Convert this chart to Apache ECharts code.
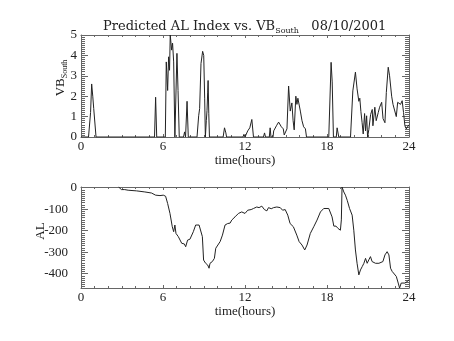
<!DOCTYPE html>
<html>
<head>
<meta charset="utf-8">
<script src="https://cdn.jsdelivr.net/npm/echarts@6/dist/echarts.min.js"></script>
<style>html,body{margin:0;padding:0;background:#fff}#c{width:454px;height:341px}</style>
</head>
<body>
<div id="c"></div>
<script>
// ---- data (hours UT) ----
const xTicks = [0, 6, 12, 18, 24];
const vbHours = [0,0.55,0.7,0.78,0.86,0.93,1.0,1.1,5.38,5.46,5.54,6.17,6.24,6.34,6.41,6.48,6.53,6.63,6.7,6.78,6.87,7.02,7.1,7.19,7.5,7.58,7.65,7.76,7.85,8.49,8.61,8.68,8.78,8.9,8.98,9.05,9.1,9.17,9.22,9.27,9.3,9.35,9.4,10.4,10.5,10.6,10.65,11.85,11.92,12.0,12.13,12.2,12.35,12.5,12.62,13.35,13.43,13.5,13.78,13.84,13.9,14.05,14.1,14.3,14.46,14.66,14.8,14.87,14.95,15.07,15.19,15.31,15.43,15.52,15.6,15.72,15.8,15.87,15.93,16.05,16.17,16.29,16.42,16.5,18.13,18.3,18.38,18.47,18.68,18.74,18.86,19.72,19.89,20.08,20.2,20.33,20.4,20.48,20.57,20.65,20.75,20.82,20.9,20.97,21.06,21.19,21.31,21.36,21.5,21.6,21.75,21.85,22.0,22.1,22.24,22.34,22.48,22.58,22.73,22.83,22.97,23.07,23.17,23.26,23.38,23.5,23.6,23.7,23.8,23.9,24.0];
const vbValues = [0,0,1.2,2.6,2.0,1.4,1.45,0,0,1.95,0,0,3.68,2.28,3.93,3.27,5.0,4.26,4.6,3.68,0,4.1,2.28,0,0,0.25,0,1.75,0,0,1.04,1.39,3.6,4.2,4.0,1.87,0,0.8,1.29,2.2,2.77,1.14,0,0,0.45,0.2,0,0,0.13,0,0,0.3,0.45,0.86,0,0,0.2,0,0,0.45,0,0,0.3,0.55,0.73,0.5,0.4,0.1,0.05,0.4,2.5,1.27,1.67,0.8,0.35,2.0,1.6,1.9,1.85,1.27,0.8,0.5,0.4,0,0,3.66,2.7,0,0,0.45,0,0,2.26,3.18,2.36,1.75,1.9,1.25,0.7,0.15,1.15,0.3,1.04,0,0.36,1.1,1.35,0.55,1.46,0.8,1.2,1.46,1.7,0.9,0.7,2.18,3.42,3.0,2.0,1.6,1.6,1.0,1.7,1.77,1.6,1.78,1.2,0.55,0.4,0.45,0.6];
const alHours = [2.75,2.84,2.96,3.2,3.45,4.06,4.67,5.16,5.46,5.78,6.02,6.19,6.34,6.51,6.68,6.78,6.87,6.95,7.12,7.37,7.56,7.66,7.8,7.97,8.05,8.22,8.39,8.64,8.78,8.88,8.97,9.12,9.27,9.37,9.44,9.61,9.76,9.86,10.0,10.18,10.35,10.54,10.73,10.91,11.03,11.27,11.52,11.76,12.0,12.2,12.45,12.62,12.86,13.03,13.23,13.42,13.6,13.72,13.92,14.09,14.33,14.58,14.75,14.94,15.13,15.3,15.54,15.79,15.96,16.17,16.37,16.54,16.78,17.03,17.27,17.52,17.76,18.13,18.25,18.37,18.5,18.66,18.81,18.98,19.05,19.1,19.23,19.35,19.48,19.65,19.84,19.96,20.08,20.2,20.33,20.45,20.58,20.7,20.82,20.94,21.06,21.18,21.3,21.43,21.55,21.67,21.8,21.92,22.09,22.24,22.4,22.53,22.65,22.77,22.9,23.07,23.21,23.31,23.43,23.56,23.7,23.87,24.0];
const alValues = [3,0,-9,-9,-12,-15,-20,-25,-35,-37,-35,-40,-74,-120,-182,-205,-174,-213,-228,-259,-262,-275,-244,-240,-236,-205,-174,-174,-182,-228,-337,-352,-360,-375,-352,-344,-329,-282,-290,-251,-221,-174,-167,-165,-151,-136,-120,-113,-120,-105,-102,-97,-90,-93,-86,-102,-108,-93,-98,-93,-90,-93,-105,-102,-128,-167,-182,-221,-251,-267,-290,-267,-213,-182,-151,-113,-97,-97,-105,-136,-179,-179,-190,-198,-150,3,-20,-35,-59,-97,-128,-198,-290,-352,-406,-383,-367,-352,-329,-352,-336,-321,-344,-336,-352,-344,-352,-359,-344,-313,-298,-313,-375,-390,-398,-413,-444,-467,-444,-437,-444,-437,-429];
const vbRange = [0, 5];
const alRange = [-467, 3];

const FONT = 'Liberation Serif';
const TFONT = 'DejaVu Serif';
const AX = '#666';
const LINE = '#222';
const TXT = '#222';

function zip(a, b) { return a.map((h, i) => [h, b[i]]); }

function xAx(grid, main) {
  return {
    type: 'value', gridIndex: grid, min: 0, max: 24, interval: 6,
    position: main ? 'bottom' : 'top',
    name: main ? 'time(hours)' : '', nameLocation: 'middle', nameGap: 17,
    nameMoveOverlap: false,
    nameTextStyle: { fontFamily: FONT, fontSize: 13, color: TXT },
    axisLine: { show: true, onZero: false, lineStyle: { color: AX, width: 1 } },
    axisTick: { show: true, inside: true, length: 3, lineStyle: { color: AX } },
    minorTick: { show: true, splitNumber: 6, length: 2, lineStyle: { color: AX } },
    axisLabel: { show: main, margin: 3, fontFamily: FONT, fontSize: 13, color: TXT,
      formatter: v => (xTicks.indexOf(v) >= 0 ? String(v) : '') },
    splitLine: { show: false }
  };
}

const option = {
  backgroundColor: '#fff',
  animation: false,
  title: {
    text: 'Predicted AL Index vs. VB{s|South}   08/10/2001',
    left: 98, top: 13,
    textStyle: { fontFamily: TFONT, fontSize: 13, fontWeight: 'normal', color: TXT,
      rich: { s: { fontFamily: TFONT, fontSize: 8, color: TXT, verticalAlign: 'bottom', padding: [9, 0, 0, 0] } } }
  },
  grid: [
    { left: 81, top: 35, width: 328, height: 102 },
    { left: 81, top: 187, width: 328, height: 101 }
  ],
  xAxis: [xAx(0, true), xAx(0, false), xAx(1, true), xAx(1, false)],
  yAxis: [
    { type: 'value', gridIndex: 0, min: vbRange[0], max: vbRange[1], interval: 1, position: 'left',
      name: 'VB{s|South}', nameLocation: 'middle', nameGap: 12, nameRotate: 90, nameMoveOverlap: false,
      nameTextStyle: { fontFamily: FONT, fontSize: 13, color: TXT, padding: [0, 0, 0, 16],
        rich: { s: { fontFamily: FONT, fontSize: 8, color: TXT, verticalAlign: 'bottom', padding: [8, 0, 0, 0] } } },
      axisLine: { show: true, onZero: false, lineStyle: { color: AX } },
      axisTick: { show: true, inside: true, length: 7, lineStyle: { color: AX } },
      minorTick: { show: true, splitNumber: 10, length: 4, lineStyle: { color: AX } },
      axisLabel: { margin: 4, fontFamily: FONT, fontSize: 13, color: TXT },
      splitLine: { show: false } },
    { type: 'value', gridIndex: 0, min: vbRange[0], max: vbRange[1], interval: 1, position: 'right',
      axisLine: { show: true, onZero: false, lineStyle: { color: AX } },
      axisTick: { show: true, inside: true, length: 7, lineStyle: { color: AX } },
      minorTick: { show: true, splitNumber: 10, length: 4, lineStyle: { color: AX } },
      axisLabel: { show: false }, splitLine: { show: false } },
    { type: 'value', gridIndex: 1, min: alRange[0], max: alRange[1], position: 'left',
      name: 'AL', nameLocation: 'middle', nameGap: 34, nameRotate: 90, nameMoveOverlap: false,
      nameTextStyle: { fontFamily: FONT, fontSize: 13, color: TXT, padding: [0, 0, 0, 13] },
      axisLine: { show: true, onZero: false, lineStyle: { color: AX } },
      axisTick: { show: true, inside: true, length: 7, lineStyle: { color: AX } },
      minorTick: { show: true, splitNumber: 10, length: 4, lineStyle: { color: AX } },
      axisLabel: { margin: 4, fontFamily: FONT, fontSize: 13, color: TXT,
        formatter: v => (v % 100 === 0 ? (v === 0 ? '0' : '{n|' + v + '}') : ''),
        rich: { n: { fontFamily: FONT, fontSize: 13, color: TXT, padding: [0, 9, 0, 0] } } },
      splitLine: { show: false } },
    { type: 'value', gridIndex: 1, min: alRange[0], max: alRange[1], position: 'right',
      axisLine: { show: true, onZero: false, lineStyle: { color: AX } },
      axisTick: { show: true, inside: true, length: 7, lineStyle: { color: AX } },
      minorTick: { show: true, splitNumber: 10, length: 4, lineStyle: { color: AX } },
      axisLabel: { show: false }, splitLine: { show: false } }
  ],
  series: [
    { type: 'line', xAxisIndex: 0, yAxisIndex: 0, data: zip(vbHours, vbValues),
      showSymbol: false, clip: true, lineStyle: { color: LINE, width: 1 }, itemStyle: { color: LINE } },
    { type: 'line', xAxisIndex: 2, yAxisIndex: 2, data: zip(alHours, alValues),
      showSymbol: false, clip: true, lineStyle: { color: LINE, width: 1 }, itemStyle: { color: LINE } }
  ]
};

const chart = echarts.init(document.getElementById('c'), null, { renderer: 'canvas' });
chart.setOption(option);
</script>
</body>
</html>
